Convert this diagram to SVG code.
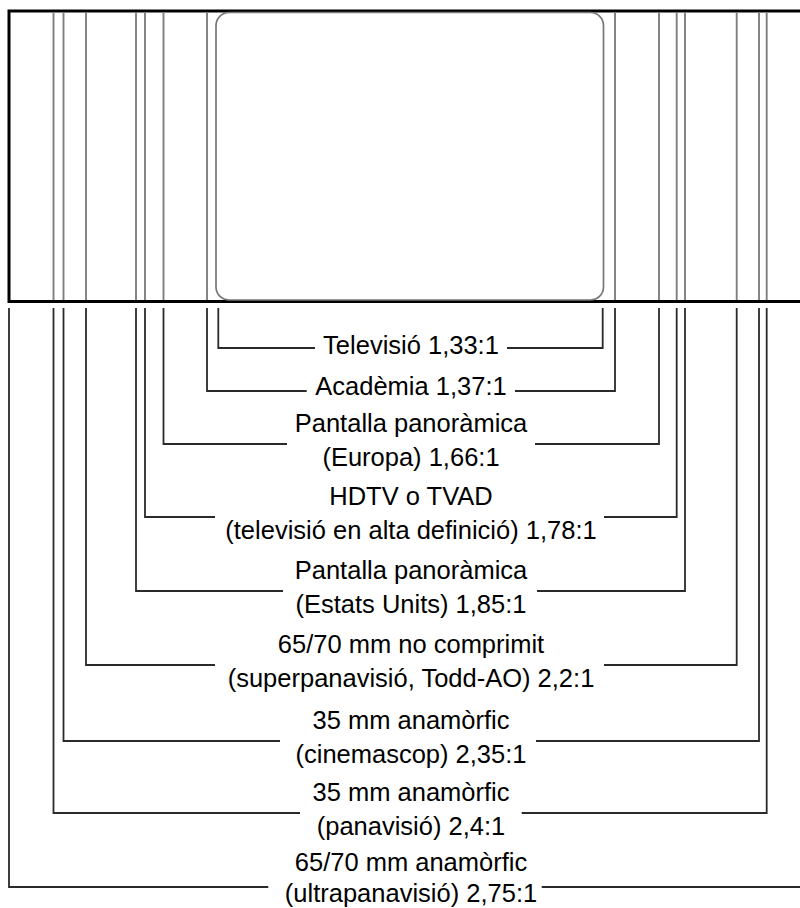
<svg xmlns="http://www.w3.org/2000/svg" width="800" height="908" viewBox="0 0 800 908">
<style>
.frame{fill:#fff;stroke:#000;stroke-width:3}
.guide{stroke:#7f7f7f;stroke-width:1.9;fill:none}
.screen{fill:none;stroke:#777;stroke-width:1.7}
.conn{fill:none;stroke:#2a2a2a;stroke-width:1.8}
text{font-family:"Liberation Sans",Arial,Helvetica,sans-serif;font-size:25.5px;fill:#000;text-anchor:middle}
</style>
<rect width="800" height="908" fill="#fff"/>
<g id="frame">
<rect class="frame" x="9" y="11" width="815" height="290.5"/>
<g class="guide">
<line x1="53.5" y1="12.5" x2="53.5" y2="300"/>
<line x1="63.5" y1="12.5" x2="63.5" y2="300"/>
<line x1="86" y1="12.5" x2="86" y2="300"/>
<line x1="136" y1="12.5" x2="136" y2="300"/>
<line x1="145" y1="12.5" x2="145" y2="300"/>
<line x1="163.5" y1="12.5" x2="163.5" y2="300"/>
<line x1="207" y1="12.5" x2="207" y2="300"/>
<line x1="615" y1="12.5" x2="615" y2="300"/>
<line x1="659" y1="12.5" x2="659" y2="300"/>
<line x1="676.7" y1="12.5" x2="676.7" y2="300"/>
<line x1="685" y1="12.5" x2="685" y2="300"/>
<line x1="736.7" y1="12.5" x2="736.7" y2="300"/>
<line x1="759" y1="12.5" x2="759" y2="300"/>
<line x1="766.7" y1="12.5" x2="766.7" y2="300"/>
</g>
<rect class="screen" x="216" y="12.5" width="387.5" height="287.5" rx="13" ry="13"/>
</g>
<g id="connectors" class="conn">
<path d="M218.3 308V348H315M507 348H602.7V308"/>
<path d="M207 308V391H306.7M515 391H615V308"/>
<path d="M163.5 308V444H287M535 444H659V308"/>
<path d="M145 308V517H215M604 517H676.7V308"/>
<path d="M136 308V591H283M537 591H685V308"/>
<path d="M86 308V665H215M604 665H736.7V308"/>
<path d="M63.5 308V741H280M536 741H759V308"/>
<path d="M53.5 308V813H300M521.7 813H766.7V308"/>
<path d="M9 308V887H268.3M541.7 887H800"/>
</g>
<g id="tv"><text x="411" y="354">Televisió 1,33:1</text></g>
<g id="academia"><text x="411" y="395">Acadèmia 1,37:1</text></g>
<g id="europa"><text x="411" y="432">Pantalla panoràmica</text><text x="411" y="466">(Europa) 1,66:1</text></g>
<g id="hdtv"><text x="411" y="505">HDTV o TVAD</text><text x="411" y="539">(televisió en alta definició) 1,78:1</text></g>
<g id="eua"><text x="411" y="579">Pantalla panoràmica</text><text x="411" y="613">(Estats Units) 1,85:1</text></g>
<g id="superpanavisio"><text x="411" y="653">65/70 mm no comprimit</text><text x="411" y="687">(superpanavisió, Todd-AO) 2,2:1</text></g>
<g id="cinemascop"><text x="411" y="729">35 mm anamòrfic</text><text x="411" y="763">(cinemascop) 2,35:1</text></g>
<g id="panavisio"><text x="411" y="801">35 mm anamòrfic</text><text x="411" y="835">(panavisió) 2,4:1</text></g>
<g id="ultrapanavisio"><text x="411" y="871">65/70 mm anamòrfic</text><text x="411" y="902">(ultrapanavisió) 2,75:1</text></g>
</svg>
